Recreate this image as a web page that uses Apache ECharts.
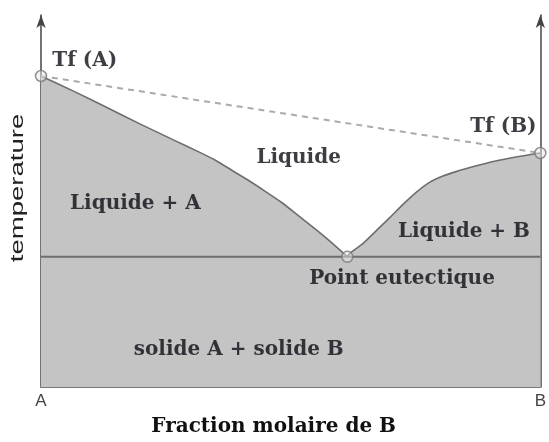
<!DOCTYPE html>
<html><head><meta charset="utf-8">
<script src="https://cdn.jsdelivr.net/npm/echarts@6/dist/echarts.min.js"></script>
<style>html,body{margin:0;padding:0;background:#fff}#c{width:549px;height:442px}</style>
</head><body><div id="c"></div>
<script>
// Liquidus of A (from Tf(A) down to the eutectic point): [mole fraction of B, temperature]
var liquidusA = [[0,83.6],[0.064,79.6],[0.131,75.2],[0.197,70.8],[0.264,66.5],[0.316,63.2],[0.350,60.9],[0.383,58.2],[0.416,55.5],[0.449,52.6],[0.482,49.6],[0.516,46.0],[0.549,42.5],[0.582,38.8],[0.6135,35.0]];
// Liquidus of B (from the eutectic point up to Tf(B))
var liquidusB = [[0.6135,35.0],[0.619,36.0],[0.645,38.6],[0.672,42.1],[0.699,45.6],[0.725,49.1],[0.752,52.4],[0.778,55.0],[0.805,56.7],[0.831,57.9],[0.870,59.4],[0.908,60.7],[0.954,61.9],[1,62.9]];
var eutecticT = 35.0;
var tfA = [0, 83.6];
var tfB = [1, 62.9];
var eutectic = [0.6135, 35.0];
var xTickLabels = ['A', 'B'];
var regionNames = ['Tf (A)', 'Tf (B)', 'Liquide', 'Liquide + A', 'Liquide + B', 'Point eutectique', 'solide A + solide B'];
var regionAnchors = [[0.0876,87.7],[0.926,70.0],[0.516,61.6],[0.189,49.3],[0.847,41.8],[0.723,29.2],[0.396,9.9]];

var chart = echarts.init(document.getElementById('c'));
var serif = '"DejaVu Serif", "Liberation Serif", serif';
function liquidusSeries(d) {
  return {
    type: 'line', data: d, smooth: 0.2, symbol: 'none',
    lineStyle: {color: '#6e6e6e', width: 1.6, join: 'round'},
    areaStyle: {color: '#c4c4c4', opacity: 1}, z: 2
  };
}
chart.setOption({
  animation: false,
  grid: {left: 41, right: 6, top: 15, bottom: 44},
  xAxis: {
    type: 'value', min: 0, max: 1, interval: 1,
    axisLine: {show: true, lineStyle: {color: '#777', width: 2}},
    axisTick: {show: false}, splitLine: {show: false},
    axisLabel: {margin: 6, color: '#444', fontSize: 17, fontFamily: 'Liberation Sans, Arial, sans-serif',
      formatter: function (v) { return v === 0 ? xTickLabels[0] : (v === 1 ? xTickLabels[1] : ''); }},
    name: 'Fraction molaire de B', nameLocation: 'middle', nameGap: 30,
    nameTextStyle: {fontFamily: serif, fontWeight: 'bold', fontSize: 20, color: '#111', padding: [0, 34, 0, 0]}
  },
  yAxis: [{
    type: 'value', min: 0, max: 100, position: 'left',
    axisLine: {show: true, symbol: ['none', 'arrow'], symbolSize: [7, 13], lineStyle: {color: '#444', width: 1.5}},
    axisTick: {show: false}, axisLabel: {show: false}, splitLine: {show: false}
  }, {
    type: 'value', min: 0, max: 100, position: 'right',
    axisLine: {show: true, onZero: false, symbol: ['none', 'arrow'], symbolSize: [7, 13], lineStyle: {color: '#444', width: 1.5}},
    axisTick: {show: false}, axisLabel: {show: false}, splitLine: {show: false}
  }],
  graphic: [{
    type: 'text', x: 18, y: 188, rotation: Math.PI / 2, scaleX: 1.45,
    style: {text: 'temperature', align: 'center', verticalAlign: 'middle', fill: '#222',
      font: '19px "Liberation Sans", Arial, sans-serif'}
  }],
  series: [liquidusSeries(liquidusA), liquidusSeries(liquidusB), {
    type: 'line', data: [[0, eutecticT], [1, eutecticT]], symbol: 'none',
    lineStyle: {color: '#6e6e6e', width: 2},
    areaStyle: {color: '#c4c4c4', opacity: 1}, z: 3
  }, {
    type: 'line', data: [tfA, tfB], symbol: 'none',
    lineStyle: {color: '#aaa', width: 2, type: [6, 5]}, z: 3
  }, {
    type: 'scatter', data: [tfA, tfB, eutectic], symbol: 'circle', symbolSize: 11,
    itemStyle: {color: 'rgba(235,235,235,0.6)', borderColor: '#777', borderWidth: 1.5}, z: 5
  }, {
    type: 'scatter', symbolSize: 0, z: 6, silent: true,
    data: regionAnchors.map(function (p, i) { return {value: p, name: regionNames[i]}; }),
    label: {show: true, position: 'inside', formatter: '{b}', color: '#0d0d14',
      fontFamily: serif, fontWeight: 'bold', fontSize: 20}
  }]
});
</script></body></html>
